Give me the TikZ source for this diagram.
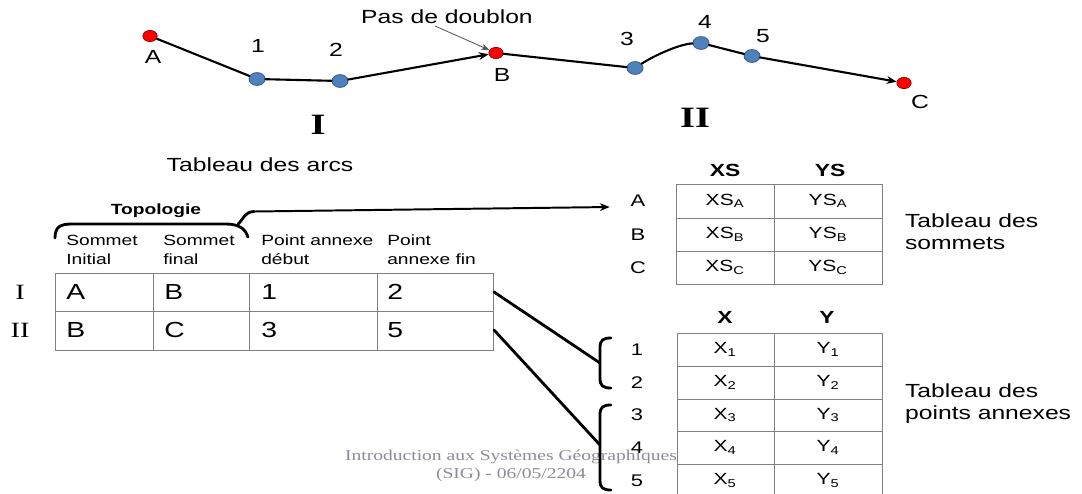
\documentclass[tikz,border=0pt]{standalone}
\usepackage{fontspec}
\setmainfont{Liberation Sans}[FakeStretch=1.3]
\newfontfamily\romfont{Liberation Serif}[FakeStretch=1.3]
\usetikzlibrary{arrows.meta, shapes.geometric}
\definecolor{ptblue}{RGB}{79, 129, 189}
\definecolor{ptblueline}{RGB}{56, 93, 138}
\definecolor{ptred}{RGB}{255, 0, 0}
\definecolor{gridgray}{RGB}{128, 128, 128}
\definecolor{footgray}{RGB}{140, 140, 155}
\newcommand{\lbl}{\fontsize{13.5}{15.6}\selectfont}
\newcommand{\hdr}{\fontsize{10.5}{13.5}\selectfont}
\newcommand{\cel}{\fontsize{11.5}{14}\selectfont}
\newcommand{\bigcel}{\fontsize{15.5}{18}\selectfont}

\begin{document}
\begin{tikzpicture}[x=0.025cm, y=-0.025cm,
  sommet/.style={ellipse, draw=red!55!black, fill=ptred, line width=0.5pt,
                 inner sep=0pt, minimum width=0.36cm, minimum height=0.28cm},
  annexe/.style={ellipse, draw=ptblueline, fill=ptblue, line width=0.6pt,
                 inner sep=0pt, minimum width=0.4cm, minimum height=0.32cm},
  lab/.style={font=\lbl, inner sep=2pt},
  arc/.style={line width=1.5pt, line cap=round},
  brc/.style={line width=2pt, line cap=round},
  grd/.style={draw=gridgray, line width=0.7pt},
  hd/.style={font=\hdr, align=left, anchor=west, inner sep=0pt},
  cell/.style={font=\bigcel, anchor=west, inner sep=0pt},
  coord/.style={font=\cel},
  rowlab/.style={font=\fontsize{12}{14}\selectfont},
  colhd/.style={font=\fontsize{12.5}{14}\selectfont\bfseries},
  rom/.style={font=\romfont\fontsize{15.5}{18}\selectfont},
  >={Stealth[length=7pt, width=5.5pt]}
]
  \path[use as bounding box, fill=white] (0,0) rectangle (1082,493);

  \node[font=\romfont\fontsize{10.7}{12.8}\selectfont, text=footgray, align=center]
    (foot) at (511,466) {Introduction aux Systèmes Géographiques\\(SIG) - 06/05/2204};

  % polyline
  \node[sommet] (A)  at (150,36) {};
  \node[annexe] (p1) at (257,79) {};
  \node[annexe] (p2) at (340,81) {};
  \node[sommet] (B)  at (496,53) {};
  \node[annexe] (p3) at (635,68) {};
  \node[annexe] (p4) at (701,43) {};
  \node[annexe] (p5) at (752,56) {};
  \node[sommet] (C)  at (904,83) {};

  \node[lab] (lA) at (153,57) {A};
  \node[lab] (l1) at (258,46) {1};
  \node[lab] (l2) at (336,50) {2};
  \node[lab] (lB) at (502,75) {B};
  \node[lab] (l3) at (627,39) {3};
  \node[lab] (l4) at (705,22) {4};
  \node[lab] (l5) at (763,36) {5};
  \node[lab] (lC) at (920,102) {C};

  \draw[arc] (A) -- (p1) -- (p2);
  \draw[arc, ->] (p2) -- (B);
  \draw[arc] (B) -- (p3) .. controls (655,55) and (680,44) .. (p4) -- (p5);
  \draw[arc, ->] (p5) -- (C);

  \node[lab] (pas) at (447,17) {Pas de doublon};
  \coordinate (pasfoot) at (435,26);
  \draw[gray!70!black, line width=0.6pt, -{Stealth[length=6pt, width=4.5pt]}] (pasfoot) -- (B);

  \node[font=\romfont\fontsize{21}{24}\selectfont\bfseries] (nI)  at (318,125) {I};
  \node[font=\romfont\fontsize{21}{24}\selectfont\bfseries] (nII) at (695,118) {II};

  % tableau des arcs
  \node[lab] (tarcs) at (260,165) {Tableau des arcs};
  \node[font=\hdr\bfseries] (topo) at (156,211) {Topologie};
  \draw[brc] (55,238) .. controls (55,227) and (60,224) .. (72,224) -- (226,224)
    .. controls (240,224) and (246,230) .. (248,237);
  \coordinate (tip) at (254,211.5);
  \draw[brc] (238,224) .. controls (244,219) and (244,212) .. (tip);

  \node[hd] (h1) at (66,250)  {Sommet\\Initial};
  \node[hd] (h2) at (163,250) {Sommet\\final};
  \node[hd] (h3) at (261,250) {Point annexe\\début};
  \node[hd] (h4) at (387,250) {Point\\annexe fin};

  \draw[grd] (55,273) rectangle (493,350);
  \draw[grd] (55,311.5) -- (493,311.5);
  \foreach \x in {153,249,377} \draw[grd] (\x,273) -- (\x,350);

  \node[rom] (rI)  at (20,292) {I};
  \node[rom] (rII) at (20,330) {II};
  \node[cell] (cI1)  at (66,292)  {A};
  \node[cell] (cI2)  at (164,292) {B};
  \node[cell] (cI3)  at (261,292) {1};
  \node[cell] (cI4)  at (387,292) {2};
  \node[cell] (cII1) at (66,330)  {B};
  \node[cell] (cII2) at (164,330) {C};
  \node[cell] (cII3) at (261,330) {3};
  \node[cell] (cII4) at (387,330) {5};
  \coordinate (eI)  at (494,292);
  \coordinate (eII) at (494,330);

  % tableau des sommets
  \node[colhd] (hXS) at (725,170) {XS};
  \node[colhd] (hYS) at (830,170) {YS};
  \draw[grd] (676,184) rectangle (882,284);
  \foreach \y in {218,251} \draw[grd] (676,\y) -- (882,\y);
  \draw[grd] (774,184) -- (774,284);
  \foreach \v/\y in {A/201, B/234.5, C/267.5} {
    \node[rowlab] (s\v) at (638,\y) {\v};
    \node[coord] (xs\v) at (725,\y) {XS\textsubscript{\v}};
    \node[coord] (ys\v) at (828,\y) {YS\textsubscript{\v}};
  }
  \node[lab, align=left, anchor=west] (tsom) at (902,232) {Tableau des\\sommets};

  \draw[line width=1.4pt, ->, shorten >=0.4cm] (tip) -- (sA.base west);

  % tableau des points annexes
  \node[colhd] (hX) at (725,317) {X};
  \node[colhd] (hY) at (827,317) {Y};
  \draw[grd] (677,333) rectangle (882,497);
  \foreach \y in {366,399,431,464} \draw[grd] (677,\y) -- (882,\y);
  \draw[grd] (774,333) -- (774,497);
  \foreach \i/\y in {1/349.5, 2/382.5, 3/415, 4/447.5, 5/480.5} {
    \node[rowlab] (a\i) at (637,\y) {\i};
    \node[coord] (x\i) at (725,\y) {X\textsubscript{\i}};
    \node[coord] (y\i) at (828,\y) {Y\textsubscript{\i}};
  }
  \node[lab, align=left, anchor=west] (tpts) at (902,404) {Tableau des\\points annexes};

  \draw[brc] (611,338) .. controls (603,338) and (600,340) .. (600,348) -- (600,378)
    .. controls (600,386) and (603,388) .. (611,388);
  \draw[brc] (611,405) .. controls (603,405) and (600,407) .. (600,415) -- (600,480)
    .. controls (600,488) and (603,490) .. (611,490);
  \coordinate (b1) at (600,363);
  \coordinate (b2) at (600,445);
  \draw[brc] (eI) -- (b1);
  \draw[brc] (eII) -- (b2);
\end{tikzpicture}
\end{document}
